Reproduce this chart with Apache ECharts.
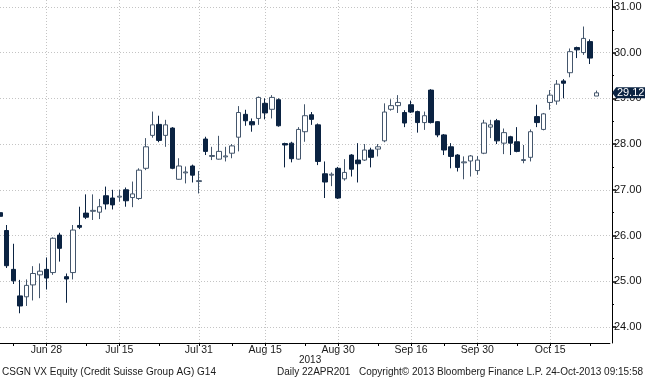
<!DOCTYPE html>
<html><head><meta charset="utf-8">
<script src="https://cdn.jsdelivr.net/npm/echarts@6/dist/echarts.min.js"></script>
<style>html,body{margin:0;padding:0;background:#fff}#c{width:645px;height:380px}</style>
</head><body><div id="c"></div>
<script>
const dates = ['Jun 19','Jun 20','Jun 21','Jun 24','Jun 25','Jun 26','Jun 27','Jun 28',
'Jul 1','Jul 2','Jul 3','Jul 4','Jul 5','Jul 8','Jul 9','Jul 10','Jul 11','Jul 12','Jul 15','Jul 16','Jul 17','Jul 18','Jul 19','Jul 22','Jul 23','Jul 24','Jul 25','Jul 26','Jul 29','Jul 30','Jul 31',
'Aug 2','Aug 5','Aug 6','Aug 7','Aug 8','Aug 9','Aug 12','Aug 13','Aug 14','Aug 15','Aug 16','Aug 19','Aug 20','Aug 21','Aug 22','Aug 23','Aug 26','Aug 27','Aug 28','Aug 29','Aug 30',
'Sep 2','Sep 3','Sep 4','Sep 5','Sep 6','Sep 9','Sep 10','Sep 11','Sep 12','Sep 13','Sep 16','Sep 17','Sep 18','Sep 19','Sep 20','Sep 23','Sep 24','Sep 25','Sep 26','Sep 27','Sep 30',
'Oct 1','Oct 2','Oct 3','Oct 4','Oct 7','Oct 8','Oct 9','Oct 10','Oct 11','Oct 14','Oct 15','Oct 16','Oct 17','Oct 18','Oct 21','Oct 22','Oct 23','Oct 24','Oct 25','Oct 28'];

const opens  = [26.50,26.11,25.26,24.68,24.66,24.92,25.14,25.26,25.19,26.01,25.10,25.19,26.22,26.49,26.53,26.51,26.87,26.82,26.84,27.00,26.83,26.81,27.47,28.19,28.43,28.19,28.35,27.23,27.37,27.52,27.18,28.11,27.73,27.67,27.72,27.80,28.15,28.65,28.49,28.56,28.89,28.76,28.97,28.01,28.02,27.67,28.27,28.64,28.42,27.35,27.32,27.47,27.24,27.76,27.65,27.65,27.87,27.89,28.07,28.76,28.84,28.69,28.86,28.71,28.47,29.18,28.49,28.20,27.94,27.76,27.59,27.63,27.42,27.80,28.37,28.51,28.02,28.16,28.05,27.64,27.71,28.60,28.32,28.91,28.94,29.38,29.56,30.11,30.00,30.24,29.05];
const closes = [26.42,25.34,25.01,24.46,24.91,25.17,25.22,25.07,25.94,25.72,25.05,26.12,26.18,26.40,26.55,26.63,26.69,26.67,26.86,26.76,26.91,27.43,27.94,28.42,28.08,28.42,27.47,27.52,27.39,27.32,27.20,27.84,27.75,27.84,27.74,27.96,28.69,28.51,28.42,29.02,28.68,29.02,28.40,27.98,27.68,28.32,28.62,28.54,27.62,27.17,27.34,26.82,27.38,27.45,27.57,27.87,27.71,27.94,28.70,28.84,28.91,28.46,28.70,28.47,28.62,28.47,28.20,27.87,27.73,27.49,27.61,27.74,27.65,28.46,28.42,28.07,28.25,28.02,27.84,27.66,28.27,28.47,28.66,29.07,29.31,29.33,30.02,30.06,30.31,29.88,29.12];
const highs  = [26.55,26.23,25.82,25.03,25.04,25.33,25.39,25.52,25.96,26.06,25.17,26.23,26.63,26.90,26.90,26.80,27.07,27.00,27.00,27.05,27.18,27.47,28.13,28.71,28.62,28.53,28.37,27.69,27.51,27.55,27.41,28.16,27.94,28.18,27.94,28.00,28.83,28.75,28.56,29.04,29.00,29.07,29.00,28.03,28.05,28.37,28.87,28.70,28.45,27.62,27.38,27.50,27.67,27.78,28.02,28.00,27.92,28.00,28.89,28.98,29.07,28.74,28.95,28.73,28.71,29.20,28.50,28.22,28.02,27.78,27.73,27.76,27.74,28.53,28.53,28.55,28.34,28.18,28.37,27.98,28.32,28.86,28.68,29.18,29.40,29.42,30.09,30.13,30.57,30.29,29.17];
const lows   = [26.35,25.29,24.94,24.30,24.46,24.58,24.63,24.82,25.14,25.43,24.53,25.04,26.14,26.36,26.34,26.36,26.57,26.57,26.74,26.63,26.62,26.78,27.43,28.14,28.04,27.94,27.45,27.22,27.14,27.16,26.92,27.76,27.65,27.66,27.62,27.69,27.84,28.40,28.27,28.42,28.54,28.56,28.38,27.49,27.60,27.66,28.05,28.42,27.54,26.82,27.08,26.80,27.20,27.29,27.16,27.63,27.49,27.73,28.04,28.73,28.68,28.37,28.68,28.25,28.31,28.45,28.15,27.76,27.47,27.40,27.23,27.29,27.33,27.78,28.13,28.00,27.78,27.76,27.82,27.58,27.62,28.37,28.30,28.75,28.86,29.00,29.46,29.88,29.95,29.75,29.05];

const labelDates = ['Jun 28','Jul 15','Jul 31','Aug 15','Aug 30','Sep 16','Sep 30','Oct 15'];
const minorTickDates = ['Jun 21','Jul 8','Jul 23','Aug 8','Aug 23','Sep 9','Sep 23','Oct 8','Oct 23'];
const yTicks = [24, 25, 26, 27, 28, 29, 30, 31];

const candles = opens.map((o, i) => [o, closes[i], lows[i], highs[i]]);
const lastIdx = closes.length - 1;
const lastClose = closes[lastIdx];

const FONT = 'Liberation Sans';
const isLabel = (i, v) => labelDates.indexOf(dates[i]) >= 0;
const isTick = (i, v) => labelDates.indexOf(dates[i]) >= 0 || minorTickDates.indexOf(dates[i]) >= 0;

const chart = echarts.init(document.getElementById('c'), null, {renderer: 'canvas'});
chart.setOption({
  animation: false,
  backgroundColor: '#ffffff',
  grid: [
    {left: -2.28, right: 35.1, top: 0, bottom: 37},
    {left: -2.28, right: 35.1, top: 7, bottom: 53}
  ],
  xAxis: [
    {
      gridIndex: 0, type: 'category', data: dates, boundaryGap: false,
      axisLine: {show: true, lineStyle: {color: '#000', width: 1}},
      axisTick: {show: true, interval: isTick, length: 3, lineStyle: {color: '#000'}},
      axisLabel: {interval: isLabel, fontFamily: FONT, fontSize: 10.5, color: '#1a1a1a', margin: 2},
      splitLine: {show: true, interval: isLabel, lineStyle: {color: '#c4c4c4', type: [1, 2], width: 1}}
    },
    {gridIndex: 1, type: 'category', data: dates, boundaryGap: false, show: false}
  ],
  yAxis: [
    {
      gridIndex: 0, type: 'value', min: yTicks[0] - 0.35, max: yTicks[yTicks.length - 1] + 0.15,
      position: 'right', offset: 2.1, scale: true,
      axisLine: {show: true, lineStyle: {color: '#000', width: 1}},
      axisTick: {show: false}, axisLabel: {show: false}, splitLine: {show: false}
    },
    {
      gridIndex: 1, type: 'value', min: yTicks[0], max: yTicks[yTicks.length - 1], interval: 1,
      position: 'right', offset: 2.1,
      axisLine: {show: false},
      axisTick: {show: true, length: 4, lineStyle: {color: '#000', width: 1.5}},
      minorTick: {show: true, splitNumber: 2, length: 2, lineStyle: {color: '#000'}},
      axisLabel: {formatter: v => v.toFixed(2), fontFamily: FONT, fontSize: 11, color: '#111', margin: 2},
      splitLine: {show: true, lineStyle: {color: '#c4c4c4', type: [1, 2], width: 1}}
    }
  ],
  series: [{
    type: 'candlestick', xAxisIndex: 0, yAxisIndex: 0, data: candles, barWidth: 5,
    itemStyle: {color: '#ffffff', color0: '#0b2342', borderColor: '#44566c', borderColor0: '#0b2342', borderWidth: 1},
    markPoint: {
      symbol: 'path://M0,5 L4,0 L33,0 L33,10 L4,10 Z',
      symbolSize: [33, 11],
      symbolOffset: [32, 0],
      itemStyle: {color: '#0b2342'},
      label: {show: true, position: 'inside', formatter: lastClose.toFixed(2), color: '#fff', fontFamily: FONT, fontSize: 11, offset: [2, 0]},
      data: [{coord: [dates[lastIdx], lastClose]}]
    }
  }],
  graphic: [
    {type: 'text', left: 299, top: 355, style: {text: '2013', font: '10px "Liberation Sans"', fill: '#1a1a1a'}},
    {type: 'text', left: 2, top: 367, style: {text: 'CSGN VX Equity (Credit Suisse Group AG) G14', font: '10px "Liberation Sans"', fill: '#1a1a1a'}},
    {type: 'text', left: 277, top: 367, style: {text: 'Daily 22APR201', font: '10px "Liberation Sans"', fill: '#1a1a1a'}},
    {type: 'text', left: 359, top: 367, style: {text: 'Copyright\u00a9 2013 Bloomberg Finance L.P.', font: '10px "Liberation Sans"', fill: '#1a1a1a'}},
    {type: 'text', right: 2, top: 367, style: {text: '24-Oct-2013 09:15:58', font: '10px "Liberation Sans"', fill: '#1a1a1a'}}
  ]
});
</script></body></html>
